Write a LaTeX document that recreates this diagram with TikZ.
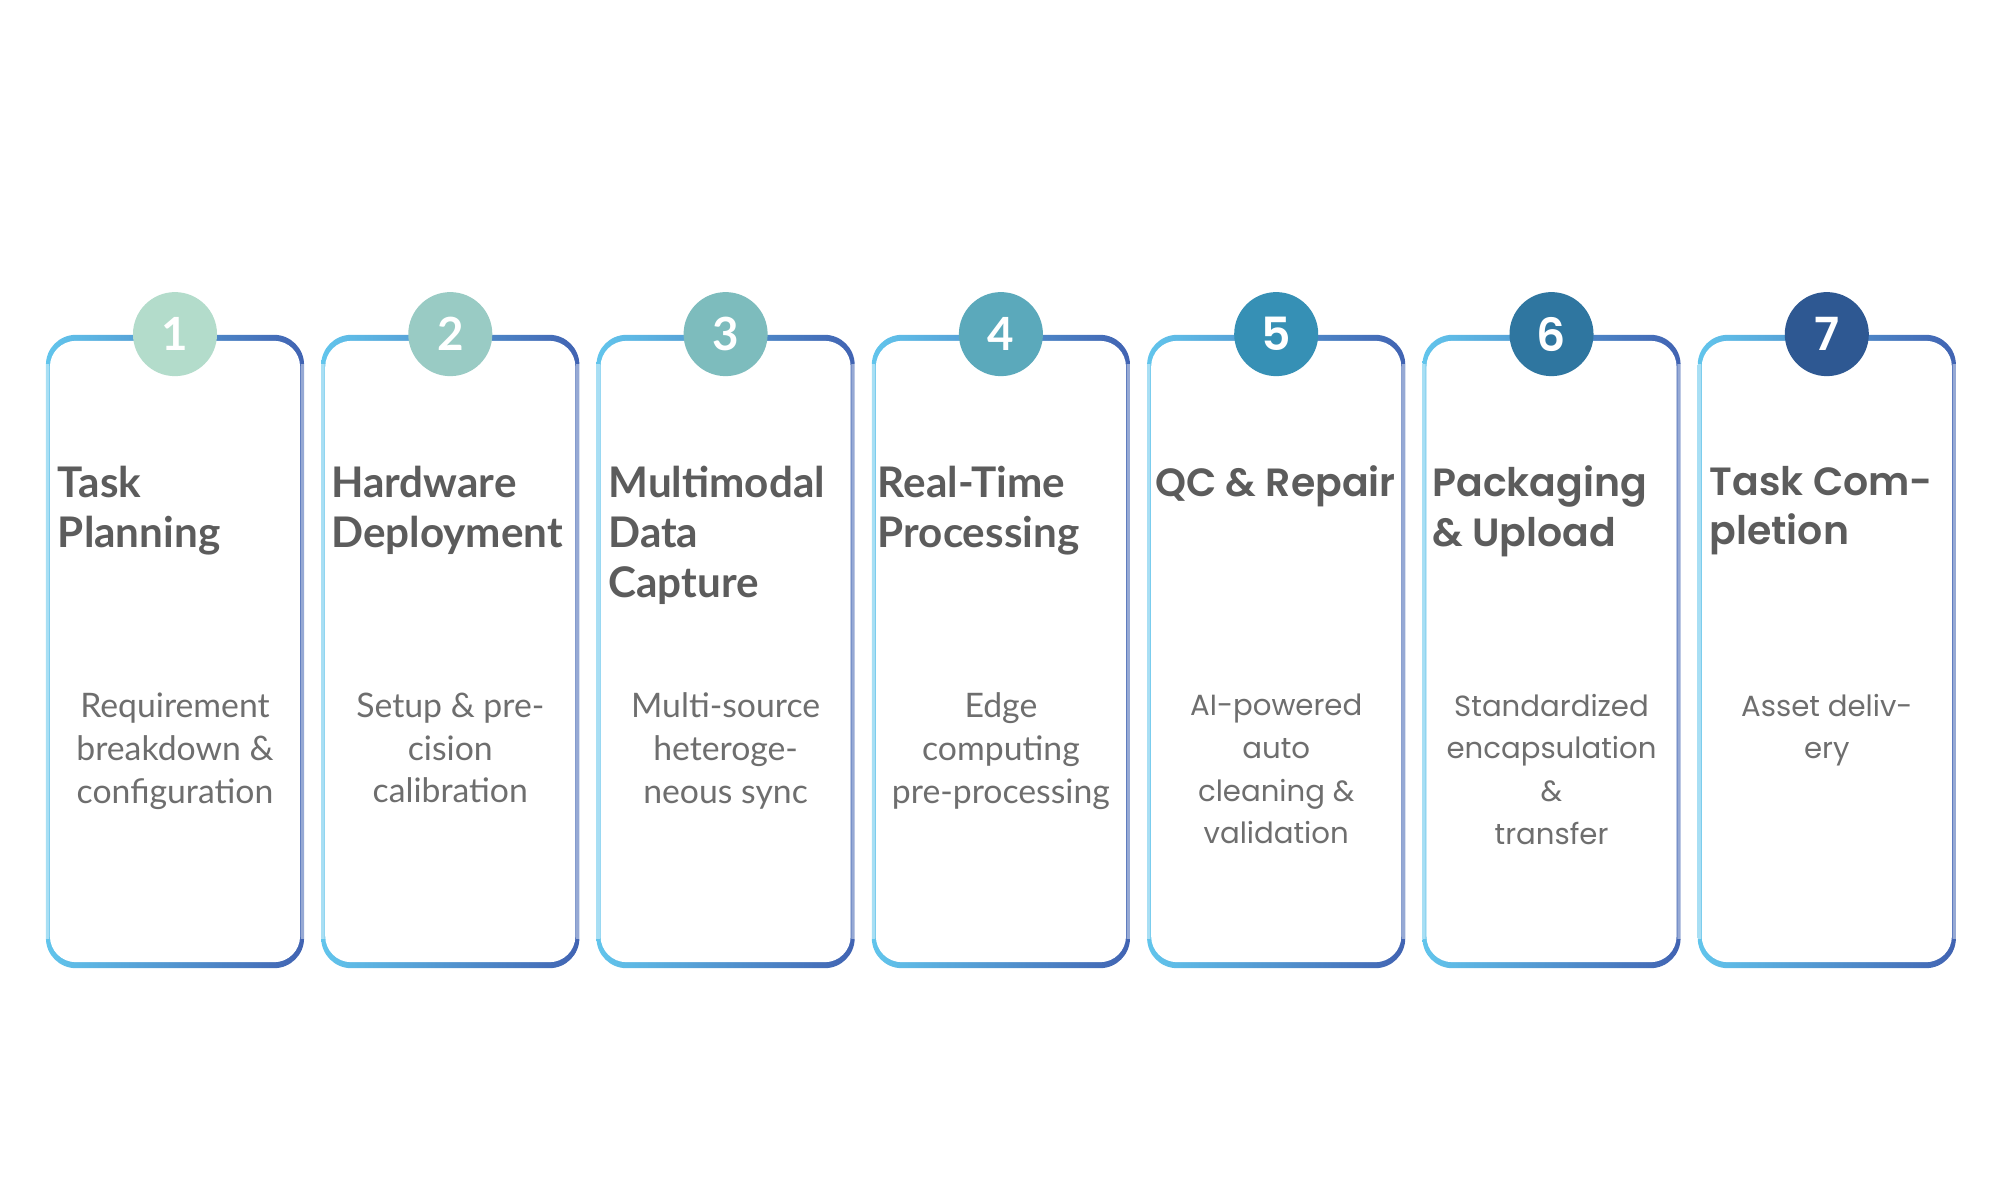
\documentclass[tikz,border=0pt]{standalone}
\usepackage{fontspec}
\setmainfont{Lato}
\newfontfamily\geofont{Poppins}[BoldFont={Poppins SemiBold}]
\usetikzlibrary{positioning}

\definecolor{ringL}{HTML}{62C5EC}
\definecolor{ringR}{HTML}{4163B2}
\definecolor{titlegray}{HTML}{5C5C5C}
\definecolor{descgray}{HTML}{6E6E6E}
\definecolor{dotA}{HTML}{B3DCCB}
\definecolor{dotB}{HTML}{99CBC4}
\definecolor{dotC}{HTML}{7DBCBD}
\definecolor{dotD}{HTML}{5BA9BB}
\definecolor{dotE}{HTML}{3690B5}
\definecolor{dotF}{HTML}{2F76A0}
\definecolor{dotG}{HTML}{2E5892}

\begin{document}
\begin{tikzpicture}
[x=0.01cm,y=-0.01cm,
card/.style={rectangle,rounded corners=0.3cm,minimum width=2.58cm,minimum height=6.33cm,inner sep=0pt,left color=ringL,right color=ringR},
cardin/.style={rectangle,rounded corners=0.26cm,fill=white,minimum width=2.5cm,minimum height=6.21cm,inner sep=0pt},
sidefade/.style={fill=white,opacity=0.45},
dot/.style={circle,minimum size=0.84cm,inner sep=0pt,text=white,font=\bfseries\fontsize{13}{13}\selectfont},
gdot/.style={dot,font=\geofont\bfseries\fontsize{13}{13}\selectfont},
title/.style={align=left,inner sep=0pt,text=titlegray,font=\bfseries\fontsize{12}{14.2}\selectfont},
gtitle/.style={title,font=\geofont\bfseries\fontsize{11.2}{14.2}\selectfont},
desc/.style={align=center,inner sep=0pt,text=descgray,font=\fontsize{9.6}{12.15}\selectfont},
gdesc/.style={desc,font=\geofont\fontsize{8.3}{12.15}\selectfont},]

\useasboundingbox (0,0) rectangle (2000,1200);

%Card centres
\def\cy{651.5}

%Drawing cards
\node (C1) at (175.0,\cy)[card] {};
\node (C2) at (450.3,\cy)[card] {};
\node (C3) at (725.6,\cy)[card] {};
\node (C4) at (1000.9,\cy)[card] {};
\node (C5) at (1276.2,\cy)[card] {};
\node (C6) at (1551.5,\cy)[card] {};
\node (C7) at (1826.8,\cy)[card] {};
\node at (C1)[cardin] {};
\node at (C2)[cardin] {};
\node at (C3)[cardin] {};
\node at (C4)[cardin] {};
\node at (C5)[cardin] {};
\node at (C6)[cardin] {};
\node at (C7)[cardin] {};

%Paler side walls
\fill[sidefade] ([yshift=-0.3cm]C1.north west) rectangle ([xshift=0.04cm,yshift=0.3cm]C1.south west) ([xshift=-0.04cm,yshift=-0.3cm]C1.north east) rectangle ([yshift=0.3cm]C1.south east);
\fill[sidefade] ([yshift=-0.3cm]C2.north west) rectangle ([xshift=0.04cm,yshift=0.3cm]C2.south west) ([xshift=-0.04cm,yshift=-0.3cm]C2.north east) rectangle ([yshift=0.3cm]C2.south east);
\fill[sidefade] ([yshift=-0.3cm]C3.north west) rectangle ([xshift=0.04cm,yshift=0.3cm]C3.south west) ([xshift=-0.04cm,yshift=-0.3cm]C3.north east) rectangle ([yshift=0.3cm]C3.south east);
\fill[sidefade] ([yshift=-0.3cm]C4.north west) rectangle ([xshift=0.04cm,yshift=0.3cm]C4.south west) ([xshift=-0.04cm,yshift=-0.3cm]C4.north east) rectangle ([yshift=0.3cm]C4.south east);
\fill[sidefade] ([yshift=-0.3cm]C5.north west) rectangle ([xshift=0.04cm,yshift=0.3cm]C5.south west) ([xshift=-0.04cm,yshift=-0.3cm]C5.north east) rectangle ([yshift=0.3cm]C5.south east);
\fill[sidefade] ([yshift=-0.3cm]C6.north west) rectangle ([xshift=0.04cm,yshift=0.3cm]C6.south west) ([xshift=-0.04cm,yshift=-0.3cm]C6.north east) rectangle ([yshift=0.3cm]C6.south east);
\fill[sidefade] ([yshift=-0.3cm]C7.north west) rectangle ([xshift=0.04cm,yshift=0.3cm]C7.south west) ([xshift=-0.04cm,yshift=-0.3cm]C7.north east) rectangle ([yshift=0.3cm]C7.south east);

%Number badges
\node (N1) at (C1.north)[dot,fill=dotA] {1};
\node (N2) at (C2.north)[dot,fill=dotB] {2};
\node (N3) at (C3.north)[dot,fill=dotC] {3};
\node (N4) at (C4.north)[dot,fill=dotD] {4};
\node (N5) at (C5.north)[gdot,fill=dotE] {5};
\node (N6) at (C6.north)[gdot,fill=dotF] {6};
\node (N7) at (C7.north)[gdot,fill=dotG] {7};

%Titles
\node (T1)[title,below right=1.31cm and 0.12cm of C1.north west] {Task\\Planning};
\node (T2)[title,below right=1.31cm and 0.10cm of C2.north west] {Hardware\\Deployment};
\node (T3)[title,below right=1.31cm and 0.12cm of C3.north west] {Multimodal\\Data\\Capture};
\node (T4)[title,below right=1.31cm and 0.06cm of C4.north west] {Real-Time\\Processing};
\node (T5)[gtitle,below right=1.31cm and 0.08cm of C5.north west] {QC \& Repair};
\node (T6)[gtitle,below right=1.31cm and 0.10cm of C6.north west] {Packaging\\\& Upload};
\node (T7)[gtitle,below right=1.31cm and 0.12cm of C7.north west] {Task Com-\\pletion};

%Descriptions
\node (D1)[desc,below=3.58cm of C1.north] {Requirement\\breakdown \&\\configuration};
\node (D2)[desc,below=3.58cm of C2.north] {Setup \& pre-\\cision\\calibration};
\node (D3)[desc,below=3.58cm of C3.north] {Multi-source\\heteroge-\\neous sync};
\node (D4)[desc,below=3.58cm of C4.north] {Edge\\computing\\pre-processing};
\node (D5)[gdesc,below=3.59cm of C5.north] {AI-powered\\auto\\cleaning \&\\validation};
\node (D6)[gdesc,below=3.59cm of C6.north] {Standardized\\encapsulation\\\&\\transfer};
\node (D7)[gdesc,below=3.59cm of C7.north] {Asset deliv-\\ery};

\end{tikzpicture}
\end{document}
